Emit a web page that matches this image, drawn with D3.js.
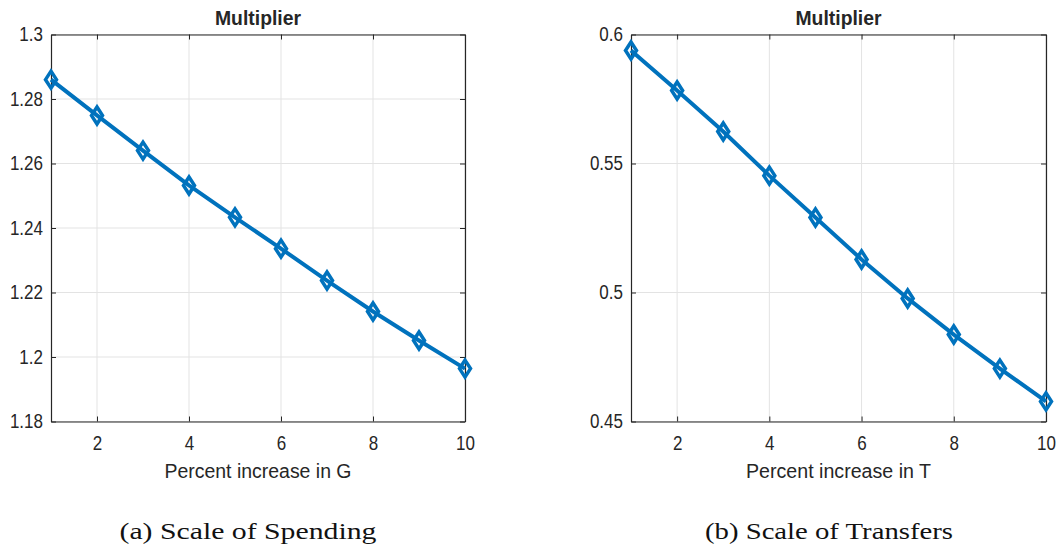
<!DOCTYPE html>
<html>
<head>
<meta charset="utf-8">
<script src="https://cdn.jsdelivr.net/npm/d3@7"></script>
<style>
  body { margin: 0; background: #fff; }
  svg text { fill: #262626; }
</style>
</head>
<body>
<svg id="chart" width="1058" height="554"></svg>
<script>
// percent increase (x) shared by both panels
const pct = [1, 2, 3, 4, 5, 6, 7, 8, 9, 10];
// multiplier for spending G
const multG = [1.2860, 1.2749, 1.2640, 1.2532, 1.2433, 1.2336, 1.2237, 1.2141, 1.2051, 1.1964];
// multiplier for transfers T
const multT = [0.5938, 0.5783, 0.5624, 0.5453, 0.5291, 0.5128, 0.4977, 0.4837, 0.4705, 0.4578];

const xTicks = [2, 4, 6, 8, 10];
const yTicksG = [1.18, 1.2, 1.22, 1.24, 1.26, 1.28, 1.3];
const yTicksT = [0.45, 0.5, 0.55, 0.6];

const svg = d3.select("#chart");
const sans = "'Liberation Sans', Arial, sans-serif";
const blue = "#0072BD";

// squeeze text horizontally so it looks like the narrow matlab font
function narrow(sel, k) {
    sel.each(function () {
        const w = this.getComputedTextLength();
        d3.select(this).attr("textLength", w * k).attr("lengthAdjust", "spacingAndGlyphs");
    });
}

/** draws one MATLAB style panel */
function drawPanel(opt) {
    const x = d3.scaleLinear().domain([1, 10]).range([opt.left, opt.right]);
    const y = d3.scaleLinear().domain(opt.yDomain).range([opt.bottom, opt.top]);
    const g = svg.append("g");

    // grid
    g.selectAll(".gx").data(xTicks).enter().append("line")
        .attr("x1", d => x(d)).attr("x2", d => x(d))
        .attr("y1", opt.top).attr("y2", opt.bottom)
        .attr("stroke", "#e3e3e3").attr("stroke-width", 1);
    g.selectAll(".gy").data(opt.yTicks).enter().append("line")
        .attr("x1", opt.left).attr("x2", opt.right)
        .attr("y1", d => y(d)).attr("y2", d => y(d))
        .attr("stroke", "#e3e3e3").attr("stroke-width", 1);

    // axes, ticks inward, mirrored on top/right
    const axB = d3.axisBottom(x).tickValues(xTicks).tickSizeInner(-5).tickSizeOuter(0).tickPadding(14);
    const axT = d3.axisTop(x).tickValues(xTicks).tickSizeInner(-5).tickSizeOuter(0).tickFormat("");
    const axL = d3.axisLeft(y).tickValues(opt.yTicks).tickSizeInner(-5).tickSizeOuter(0).tickPadding(8).tickFormat(d3.format(""));
    const axR = d3.axisRight(y).tickValues(opt.yTicks).tickSizeInner(-5).tickSizeOuter(0).tickFormat("");

    [[axB, `translate(0,${opt.bottom})`], [axT, `translate(0,${opt.top})`],
     [axL, `translate(${opt.left},0)`], [axR, `translate(${opt.right},0)`]].forEach(([ax, tr]) => {
        const a = g.append("g").attr("transform", tr).call(ax);
        a.select(".domain").attr("stroke", "#262626").attr("stroke-width", 1.2);
        a.selectAll(".tick line").attr("stroke", "#262626");
        a.selectAll("text").attr("font-family", sans).attr("font-size", 20).attr("fill", "#262626").call(narrow, 0.85);
    });

    // line
    const line = d3.line().x((d, i) => x(pct[i])).y(d => y(d));
    g.append("path").datum(opt.values)
        .attr("d", line).attr("fill", "none")
        .attr("stroke", blue).attr("stroke-width", 4).attr("stroke-linejoin", "round");

    // diamond markers
    g.selectAll(".mk").data(opt.values).enter().append("path")
        .attr("transform", (d, i) => `translate(${x(pct[i])},${y(d)})`)
        .attr("d", "M0,-8.5L5.5,0L0,8.5L-5.5,0Z")
        .attr("fill", "none").attr("stroke", blue).attr("stroke-width", 3.5);

    const cx = (opt.left + opt.right) / 2;
    g.append("text").attr("x", cx).attr("y", 25).attr("text-anchor", "middle")
        .attr("font-family", sans).attr("font-weight", "bold").attr("font-size", 21)
        .text("Multiplier").attr("textLength", 86).attr("lengthAdjust", "spacingAndGlyphs");
    g.append("text").attr("x", cx).attr("y", 478).attr("text-anchor", "middle")
        .attr("font-family", sans).attr("font-size", 20)
        .text(opt.xLabel).attr("textLength", opt.xLabelW).attr("lengthAdjust", "spacingAndGlyphs");
    svg.append("text").attr("x", opt.capX).attr("y", 539).attr("text-anchor", "middle")
        .attr("font-family", "'Liberation Serif', 'Times New Roman', serif")
        .attr("font-size", 24).style("fill", "#111")
        .text(opt.caption).attr("textLength", opt.capW).attr("lengthAdjust", "spacingAndGlyphs");
}

drawPanel({ left: 51, right: 465, top: 34.5, bottom: 421.5, yDomain: [1.18, 1.3], yTicks: yTicksG,
    values: multG, xLabel: "Percent increase in G", xLabelW: 187,
    caption: "(a) Scale of Spending", capX: 248, capW: 257 });
drawPanel({ left: 631, right: 1046, top: 34.5, bottom: 421.5, yDomain: [0.45, 0.6], yTicks: yTicksT,
    values: multT, xLabel: "Percent increase in T", xLabelW: 185,
    caption: "(b) Scale of Transfers", capX: 829, capW: 248 });
</script>
</body>
</html>
